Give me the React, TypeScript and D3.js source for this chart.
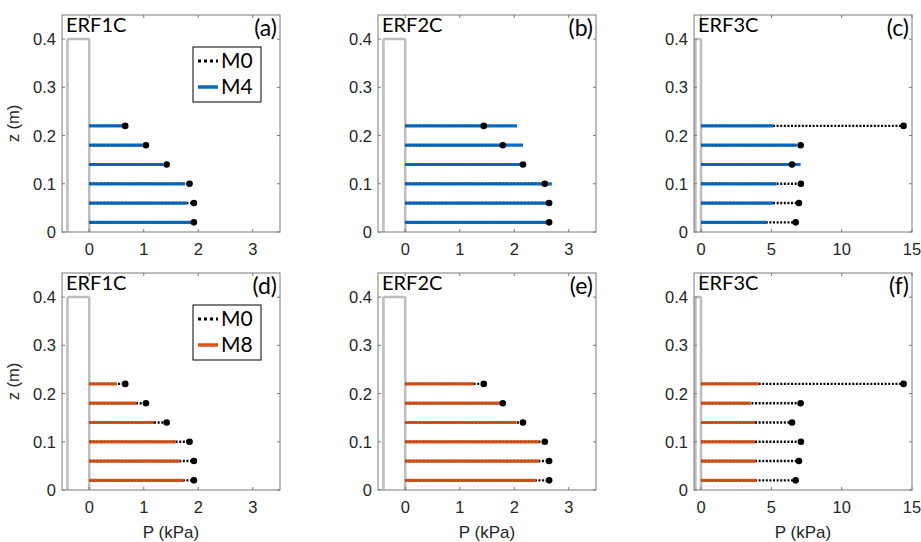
import * as d3 from "d3";

// wall heights (m) where pressure was sampled
const zLevels = [0.02, 0.06, 0.1, 0.14, 0.18, 0.22];

const m0ERF1C = [1.92, 1.92, 1.84, 1.42, 1.04, 0.66];
const m4ERF1C = [1.93, 1.79, 1.76, 1.35, 0.98, 0.62];
const m8ERF1C = [1.73, 1.67, 1.59, 1.19, 0.87, 0.5];

const m0ERF2C = [2.64, 2.64, 2.56, 2.16, 1.79, 1.44];
const m4ERF2C = [2.65, 2.63, 2.69, 2.16, 2.16, 2.05];
const m8ERF2C = [2.4, 2.46, 2.46, 2.04, 1.75, 1.26];

const m0ERF3C = [6.73, 6.96, 7.1, 6.47, 7.08, 14.4];
const m4ERF3C = [4.67, 5.14, 5.37, 7.08, 6.78, 5.14];
const m8ERF3C = [3.95, 3.9, 3.85, 3.85, 3.53, 4.1];

const yTicks = [0, 0.1, 0.2, 0.3, 0.4];
const xTicksSmall = [0, 1, 2, 3];
const xTicksLarge = [0, 5, 10, 15];

const blue = "#0a6bc0";
const orange = "#d9531a";

type Panel = {
  title: string;
  letter: string;
  m0: number[];
  mod: number[];
  modName: string;
  color: string;
  xMax: number;
  ticks: number[];
  row: number;
  col: number;
  legend: boolean;
};

const panels: Panel[] = [
  { title: "ERF1C", letter: "(a)", m0: m0ERF1C, mod: m4ERF1C, modName: "M4", color: blue, xMax: 3.5, ticks: xTicksSmall, row: 0, col: 0, legend: true },
  { title: "ERF2C", letter: "(b)", m0: m0ERF2C, mod: m4ERF2C, modName: "M4", color: blue, xMax: 3.5, ticks: xTicksSmall, row: 0, col: 1, legend: false },
  { title: "ERF3C", letter: "(c)", m0: m0ERF3C, mod: m4ERF3C, modName: "M4", color: blue, xMax: 15, ticks: xTicksLarge, row: 0, col: 2, legend: false },
  { title: "ERF1C", letter: "(d)", m0: m0ERF1C, mod: m8ERF1C, modName: "M8", color: orange, xMax: 3.5, ticks: xTicksSmall, row: 1, col: 0, legend: true },
  { title: "ERF2C", letter: "(e)", m0: m0ERF2C, mod: m8ERF2C, modName: "M8", color: orange, xMax: 3.5, ticks: xTicksSmall, row: 1, col: 1, legend: false },
  { title: "ERF3C", letter: "(f)", m0: m0ERF3C, mod: m8ERF3C, modName: "M8", color: orange, xMax: 15, ticks: xTicksLarge, row: 1, col: 2, legend: false }
];

const colLefts = [62, 378, 694];
const rowTops = [15, 273];
const pw = 218;
const ph = 217;
const tickFont = "'Liberation Sans', Arial, sans-serif";
const textFont = "Lato, 'Open Sans', sans-serif";

function PanelView({ p }: { p: Panel }) {
  const left = colLefts[p.col];
  const top = rowTops[p.row];
  const x = d3.scaleLinear().domain([-0.5, p.xMax]).range([left, left + pw]);
  const y = d3.scaleLinear().domain([0, 0.45]).range([top + ph, top]);
  const axis = "#7a7a7a";
  const tl = 3;
  const clipId = `clip-${p.letter.replace(/\W/g, "")}`;

  return (
    <g>
      <defs>
        <clipPath id={clipId}>
          <rect x={left} y={top} width={pw} height={ph} />
        </clipPath>
      </defs>
      <g clipPath={`url(#${clipId})`}>
        {/* wall outline */}
        <rect
          x={x(-0.4)}
          y={y(0.4)}
          width={x(0) - x(-0.4)}
          height={y(-0.02) - y(0.4)}
          fill="none"
          stroke="#bdbdbd"
          strokeWidth={2.5}
          rx={1.5}
        />
        {zLevels.map((z, i) => (
          <g key={i}>
            <line x1={x(0)} x2={x(p.m0[i])} y1={y(z)} y2={y(z)} stroke="#000" strokeWidth={2.4} strokeDasharray="2 1.6" />
            <line x1={x(0)} x2={x(p.mod[i])} y1={y(z)} y2={y(z)} stroke={p.color} strokeWidth={3.2} />
            <line
              x1={x(0)}
              x2={x(Math.min(p.mod[i], p.m0[i]))}
              y1={y(z)}
              y2={y(z)}
              stroke="#000"
              strokeOpacity={0.35}
              strokeWidth={0.8}
              strokeDasharray="1.5 2"
            />
            <circle cx={x(p.m0[i])} cy={y(z)} r={3.3} fill="#000" />
          </g>
        ))}
      </g>
      {/* axes box */}
      <rect x={left} y={top} width={pw} height={ph} fill="none" stroke={axis} strokeWidth={1} />
      {p.ticks.map((t) => (
        <g key={t}>
          <line x1={x(t)} x2={x(t)} y1={top + ph} y2={top + ph - tl} stroke={axis} />
          <line x1={x(t)} x2={x(t)} y1={top} y2={top + tl} stroke={axis} />
          <text x={x(t)} y={top + ph + 23} textAnchor="middle" fontSize={16.5} fontFamily={tickFont} fill="#262626">
            {t}
          </text>
        </g>
      ))}
      {yTicks.map((t) => (
        <g key={t}>
          <line x1={left} x2={left + tl} y1={y(t)} y2={y(t)} stroke={axis} />
          <line x1={left + pw} x2={left + pw - tl} y1={y(t)} y2={y(t)} stroke={axis} />
          <text x={left - 6} y={y(t) + 6} textAnchor="end" fontSize={16.5} fontFamily={tickFont} fill="#262626">
            {d3.format(".1~f")(t)}
          </text>
        </g>
      ))}
      <text x={left + 4} y={top + 17} fontSize={20} fontFamily={textFont} fill="#000">
        {p.title}
      </text>
      <text x={left + pw - 3} y={top + 21} textAnchor="end" fontSize={23} fontFamily={textFont} fill="#000">
        {p.letter}
      </text>
      {p.legend && (
        <g>
          <rect x={left + 131} y={top + 32} width={68} height={55} fill="#fff" stroke="#000" strokeWidth={1} />
          <line x1={left + 136} x2={left + 156} y1={top + 46} y2={top + 46} stroke="#000" strokeWidth={3} strokeDasharray="3 3" />
          <text x={left + 159} y={top + 53} fontSize={21} fontFamily={textFont} fill="#000">
            M0
          </text>
          <line x1={left + 136} x2={left + 156} y1={top + 72} y2={top + 72} stroke={p.color} strokeWidth={3.5} />
          <text x={left + 159} y={top + 79} fontSize={21} fontFamily={textFont} fill="#000">
            {p.modName}
          </text>
        </g>
      )}
      {p.col === 0 && (
        <text
          transform={`translate(${left - 43},${y(0.225)}) rotate(-90)`}
          textAnchor="middle"
          fontSize={16.5}
          fontFamily={tickFont}
          fill="#262626"
        >
          z (m)
        </text>
      )}
      {p.row === 1 && (
        <text x={left + pw / 2} y={top + ph + 48} textAnchor="middle" fontSize={17} fontFamily={tickFont} fill="#262626">
          P (kPa)
        </text>
      )}
    </g>
  );
}

export default function App() {
  return (
    <svg width={921} height={542} style={{ position: "absolute", left: 0, top: 0, background: "#fff" }}>
      <rect width={921} height={542} fill="#fff" />
      {panels.map((p) => (
        <PanelView key={p.letter} p={p} />
      ))}
    </svg>
  );
}
